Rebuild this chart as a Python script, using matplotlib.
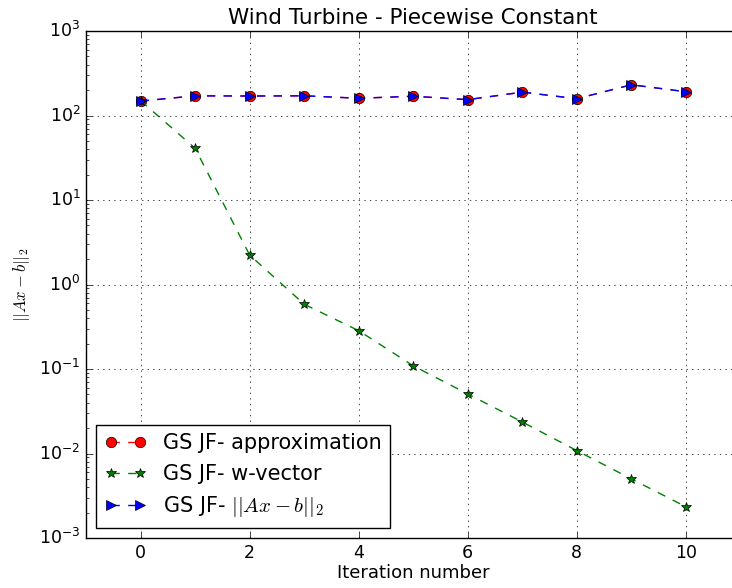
import matplotlib
matplotlib.use("Agg")
import matplotlib.pyplot as plt

plt.style.use('classic')
plt.rcParams['axes.unicode_minus'] = False

iterations = [0, 1, 2, 3, 4, 5, 6, 7, 8, 9, 10]
approximation = [148, 171, 170, 171, 160, 169, 154, 189, 158, 231, 191]
w_vector = [150, 41, 2.23, 0.584, 0.284, 0.109, 0.0506, 0.0236, 0.0108, 0.0050, 0.00234]
residual = [148, 171, 170, 171, 160, 169, 154, 189, 158, 231, 191]

labels = ['GS JF- approximation', 'GS JF- w-vector', r'GS JF- $||Ax-b||_2$']

fig = plt.figure(figsize=(7.32, 5.88), dpi=100, facecolor='white')
ax = fig.add_axes([86/732, 50/588, 654.5/732, 507/588])

ax.plot(iterations, approximation, 'ro--', markersize=7.5, label=labels[0])
ax.plot(iterations, w_vector, 'g*--', markersize=7, label=labels[1])
ax.plot(iterations, residual, 'b>--', markersize=7.5, label=labels[2])

ax.set_yscale('log')
ax.set_ylim(1e-3, 1e3)
ax.set_xlim(-1, 11)
ax.set_xticks([0, 2, 4, 6, 8, 10])
ax.tick_params(labelsize=12.5)
ax.grid(True)
ax.set_title('Wind Turbine - Piecewise Constant', fontsize=15.5)
ax.set_xlabel('Iteration number', fontsize=13, labelpad=2)
ax.set_ylabel(r'$||Ax-b||_2$', fontsize=12)
ax.legend(loc='lower left', fontsize=15, numpoints=2)

fig.savefig('out.png', dpi=100, facecolor='white')
